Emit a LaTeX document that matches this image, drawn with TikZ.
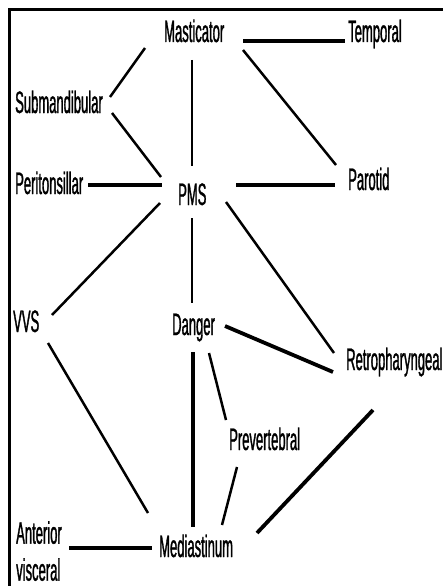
\documentclass[tikz,border=0pt]{standalone}
\usepackage{fontspec}
\setmainfont{Liberation Sans}[FakeStretch=0.42,FakeBold=1]
\usetikzlibrary{calc}
\begin{document}
\begin{tikzpicture}[x=1pt,y=-1pt,
  lbl/.style={inner sep=0pt, anchor=base west, font=\fontsize{31}{37}\selectfont},
  thin/.style={line width=1.7pt},
  med/.style={line width=2.5pt},
  thick/.style={line width=3.8pt},
  frame/.style={line width=3pt}]
\useasboundingbox (0,0) rectangle (443,586);
\begin{scope}
\clip (0,0) rectangle (443,586);
\draw[frame] (445,10) -- (9,10) -- (9,590);
\end{scope}
% nodes
\node[lbl] (mast) at (164,42) {Masticator};
\node[lbl] (temp) at (348,42) {Temporal};
\node[lbl] (sub) at (15,113) {Submandibular};
\node[lbl] (peri) at (15,194) {Peritonsillar};
\node[lbl] (pms) at (178,205) {PMS};
\node[lbl] (par) at (348,190) {Parotid};
\node[lbl] (vvs) at (13,332) {VVS};
\node[lbl] (dan) at (172,335) {Danger};
\node[lbl] (retro) at (346,370) {Retropharyngeal};
\node[lbl] (prev) at (229,450) {Prevertebral};
\node[lbl, anchor=north west, align=left] (ant) at (16,521) {Anterior\\visceral};
\node[lbl] (med) at (159,557) {Mediastinum};
% connectors
\draw[thick] ($(mast.base west)+(79,-1)$) -- ($(temp.base west)+(-3,-1)$);
\draw[med] ($(mast.base west)+(-19,6)$) -- ($(sub.base west)+(95,-16)$);
\draw[med] ($(sub.base west)+(97,0)$) -- ($(pms.base west)+(-17,-28)$);
\draw[thin] ($(mast.base west)+(28,18)$) -- ($(pms.base west)+(14,-39)$);
\draw[med] ($(mast.base west)+(79,8)$) -- ($(par.base west)+(-12,-25)$);
\draw[thick] ($(peri.base west)+(73,-9)$) -- ($(pms.base west)+(-16,-20)$);
\draw[thick] ($(pms.base west)+(58,-20)$) -- ($(par.base west)+(-13,-5)$);
\draw[med] ($(pms.base west)+(-18,-2)$) -- ($(vvs.base west)+(39,-17)$);
\draw[thin] ($(pms.base west)+(14,13)$) -- ($(dan.base west)+(20,-32)$);
\draw[med] ($(pms.base west)+(48,-3)$) -- ($(retro.base west)+(-12,-17)$);
\draw[thick] ($(dan.base west)+(53,-9)$) -- ($(retro.base west)+(-13,2)$);
\draw[med] ($(vvs.base west)+(35,11)$) -- ($(med.base west)+(-11,-44)$);
\draw[thick] ($(dan.base west)+(21,17)$) -- ($(med.base west)+(34,-30)$);
\draw[med] ($(dan.base west)+(37,18)$) -- ($(prev.base west)+(-3,-30)$);
\draw[med] ($(prev.base west)+(8,17)$) -- ($(med.base west)+(63,-32)$);
\draw[thick] ($(retro.base west)+(27,40)$) -- ($(med.base west)+(98,-24)$);
\draw[thick] ($(ant.north west)+(53,27)$) -- ($(med.base west)+(-7,-9)$);
\end{tikzpicture}
\end{document}
